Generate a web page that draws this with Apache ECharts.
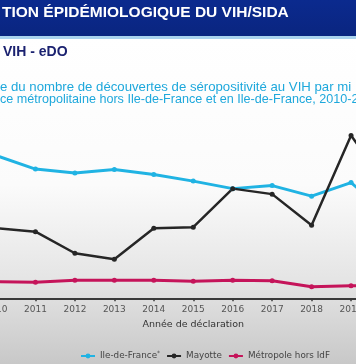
<!DOCTYPE html>
<html><head><meta charset="utf-8">
<script src="https://cdn.jsdelivr.net/npm/echarts@6/dist/echarts.min.js"></script>
<style>html,body{margin:0;padding:0;width:356px;height:364px;overflow:hidden;background:#fff}#c{width:356px;height:364px}</style>
</head><body><div id="c"></div>
<script>
var years = ['2010','2011','2012','2013','2014','2015','2016','2017','2018','2019','2020'];
var ileDeFrance = [285, 258, 250, 257, 247, 234, 219, 225, 204, 231, 163];
var mayotte = [140, 133, 90, 78, 140, 142, 219, 208, 146, 325, 215];
var metropole = [33, 32, 36, 36, 36, 34, 36, 35, 23, 25, 25];
var seriesNames = ['Ile-de-France', 'Mayotte', 'Métropole hors IdF'];
var titleText = 'TION ÉPIDÉMIOLOGIQUE DU VIH/SIDA';
var subTitle = 'VIH - eDO';
var captionLines = ['e du nombre de découvertes de séropositivité au VIH par mi', 'ce métropolitaine hors Ile-de-France et en Ile-de-France, 2010-2'];
var xAxisName = 'Année de déclaration';

var chart = echarts.init(document.getElementById('c'), null, {renderer: 'canvas'});
var font = 'DejaVu Sans';
function lineSeries(name, data, color, width) {
  return {
    name: name, type: 'line', data: data, symbol: 'circle', symbolSize: 5,
    lineStyle: {color: color, width: width}, itemStyle: {color: color},
    emphasis: {disabled: true}, animation: false, z: 5
  };
}
chart.setOption({
  animation: false,
  graphic: [
    {type: 'rect', z: -10, shape: {x: 0, y: 38, width: 356, height: 326},
     style: {fill: new echarts.graphic.LinearGradient(0, 0, 0, 1, [
       {offset: 0, color: '#ffffff'}, {offset: 0.45, color: '#fbfbfb'},
       {offset: 0.75, color: '#e4e4e4'}, {offset: 1, color: '#c8c8c8'}])}},
    {type: 'rect', z: -5, shape: {x: 0, y: 0, width: 356, height: 36},
     style: {fill: new echarts.graphic.LinearGradient(0, 0, 0, 1, [
       {offset: 0, color: '#0b2a8e'}, {offset: 1, color: '#0a2580'}])}},
    {type: 'rect', z: -5, shape: {x: 0, y: 36, width: 356, height: 3},
     style: {fill: '#a9d3ee'}},
    {type: 'text', x: 2, y: 13, style: {text: titleText, fill: '#ffffff',
      font: 'bold 15.5px "Liberation Sans"', textVerticalAlign: 'middle'}},
    {type: 'text', x: 3, y: 52, style: {text: subTitle, fill: '#1b2270',
      font: 'bold 14px "Liberation Sans"', textVerticalAlign: 'middle'}},
    {type: 'text', x: 0, y: 87.5, style: {text: captionLines[0], fill: '#1ea8dc',
      font: '13.2px "Liberation Sans"', textVerticalAlign: 'middle'}},
    {type: 'text', x: 0, y: 100, style: {text: captionLines[1], fill: '#1ea8dc',
      font: '12.6px "Liberation Sans"', textVerticalAlign: 'middle'}}
  ],
  grid: {left: -4, right: -34.5, top: 110, bottom: 65.7, outerBoundsMode: 'none', containLabel: false},
  xAxis: {
    type: 'category', data: years, boundaryGap: false,
    axisLine: {lineStyle: {color: '#3a3a3a', width: 2}},
    axisTick: {show: true, length: 3, lineStyle: {color: '#3a3a3a', width: 1.5}},
    axisLabel: {color: '#555', fontFamily: font, fontSize: 9, margin: 7},
    name: xAxisName, nameLocation: 'middle', nameGap: 18,
    nameTextStyle: {color: '#333', fontFamily: font, fontSize: 9.5}
  },
  yAxis: {type: 'value', min: 0, max: 376, show: false, splitLine: {show: false}},
  legend: {
    data: seriesNames, left: 75, top: 345, itemWidth: 14, itemHeight: 6, itemGap: 6,
    textStyle: {color: '#444', fontFamily: font, fontSize: 8.8,
      rich: {s: {fontSize: 6, color: '#444', verticalAlign: 'top', padding: [0,0,6,0]}}},
    formatter: function (n) { return n === 'Ile-de-France' ? n + '{s|*}' : n; }
  },
  series: [
    lineSeries(seriesNames[0], ileDeFrance, '#20b3e3', 3),
    lineSeries(seriesNames[1], mayotte, '#262626', 2.5),
    lineSeries(seriesNames[2], metropole, '#c5145a', 3)
  ]
});
</script></body></html>
